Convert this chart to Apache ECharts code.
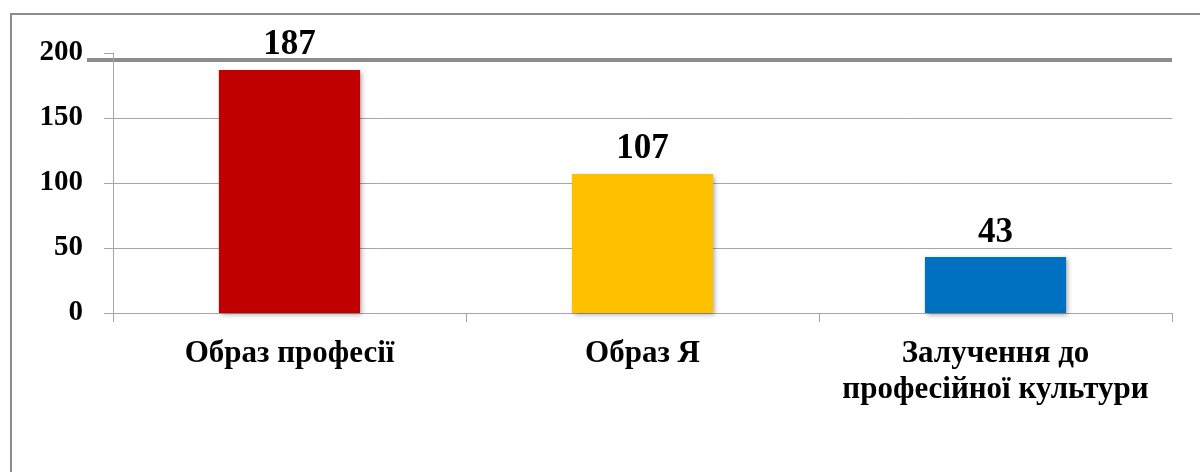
<!DOCTYPE html>
<html>
<head>
<meta charset="utf-8">
<script src="https://cdn.jsdelivr.net/npm/echarts@6/dist/echarts.min.js"></script>
<style>
  html, body { margin: 0; padding: 0; background: #fff; }
  #chart { width: 1200px; height: 472px; }
</style>
</head>
<body>
<div id="chart"></div>
<script>
const categories = ['Образ професії', 'Образ Я', 'Залучення до\nпрофесійної культури']
const values = [187, 107, 43]
const barColors = ['#C00000', '#FFC000', '#0070C0']
const yTicks = [0, 50, 100, 150, 200]

const font = 'Liberation Serif'
const gridColor = '#a6a6a6'

let myChart = echarts.init(document.getElementById('chart'))

let option = {
  animation: false,
  grid: { left: 113, right: 28, top: 53, bottom: 159 },
  xAxis: {
    type: 'category',
    data: categories,
    axisLine: { lineStyle: { color: gridColor, width: 1 } },
    axisTick: { show: true, interval: 0, length: 9, lineStyle: { color: gridColor } },
    axisLabel: {
      interval: 0,
      hideOverlap: false,
      margin: 23,
      color: '#000',
      fontFamily: font,
      fontWeight: 'bold',
      fontSize: 31,
      lineHeight: 36,
      verticalAlign: 'top'
    }
  },
  yAxis: {
    type: 'value',
    min: yTicks[0],
    max: yTicks[yTicks.length - 1],
    interval: 50,
    axisLine: { show: true, lineStyle: { color: gridColor, width: 1 } },
    axisTick: { show: true, length: 9, lineStyle: { color: gridColor } },
    splitLine: { show: true, showMaxLine: false, lineStyle: { color: gridColor, width: 1 } },
    axisLabel: {
      margin: 30,
      padding: [8, 0, 0, 0],
      color: '#000',
      fontFamily: font,
      fontWeight: 'bold',
      fontSize: 29
    }
  },
  series: [
    {
      type: 'bar',
      barWidth: '40%',
      data: values.map((v, i) => ({
        value: v,
        itemStyle: { color: barColors[i] }
      })),
      itemStyle: {
        shadowColor: 'rgba(0,0,0,0.35)',
        shadowBlur: 5,
        shadowOffsetX: 2,
        shadowOffsetY: 2
      },
      label: {
        show: true,
        position: 'top',
        distance: 7,
        color: '#000',
        fontFamily: font,
        fontWeight: 'bold',
        fontSize: 35
      }
    }
  ]
}
myChart.setOption(option)

// outer frame and the heavy line near the top of the plot
let yTop = myChart.convertToPixel({ yAxisIndex: 0 }, yTicks[yTicks.length - 1])
myChart.setOption({
  graphic: [
    {
      type: 'rect',
      shape: { x: 11, y: 14, width: 1200, height: 470 },
      style: { fill: 'none', stroke: '#8c8c8c', lineWidth: 2 },
      silent: true
    },
    {
      type: 'line',
      shape: { x1: 87, y1: yTop + 7, x2: 1172, y2: yTop + 7 },
      style: { stroke: '#8c8c8c', lineWidth: 4 },
      silent: true
    }
  ]
})
</script>
</body>
</html>
